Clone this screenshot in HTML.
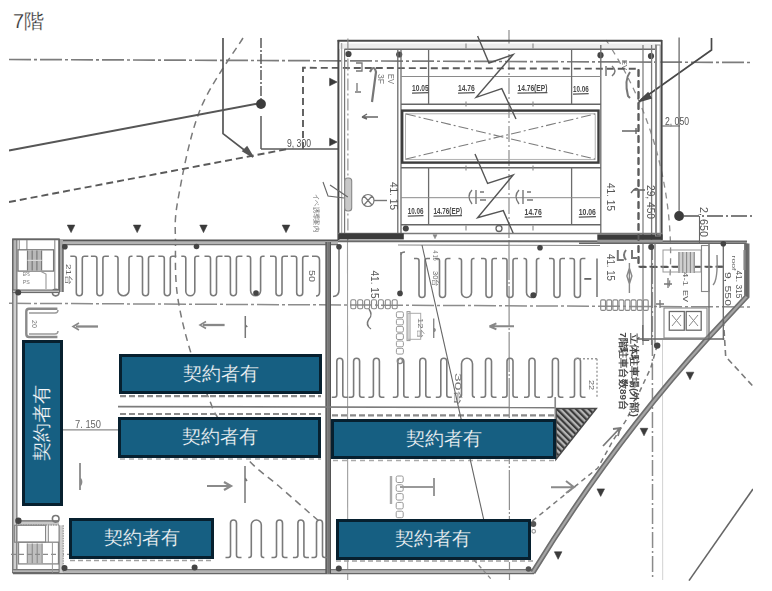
<!DOCTYPE html>
<html><head><meta charset="utf-8"><style>
html,body{margin:0;padding:0;background:#fff;width:772px;height:591px;overflow:hidden;font-family:"Liberation Sans",sans-serif}
svg{position:absolute;left:0;top:0}
svg text{font-family:"Liberation Sans",sans-serif}
.t{position:absolute;left:13px;top:11px;font-size:20px;color:#2e2e2e;-webkit-text-stroke:0.25px #fff;line-height:1}
.bx{position:absolute;box-sizing:border-box;border:3px solid #07202f;background:#165f82;color:#f6f8fa;font-size:18.5px;-webkit-text-stroke:0.2px #165f82;display:flex;align-items:center;justify-content:center;line-height:1}
.v{display:inline-block;transform:rotate(-90deg);white-space:nowrap}
</style></head><body>
<div class="t">7階</div>
<svg width="772" height="591" viewBox="0 0 772 591">
<defs><pattern id="hatch" width="4.5" height="4.5" patternUnits="userSpaceOnUse" patternTransform="rotate(-45)"><rect width="4.5" height="4.5" fill="#b4b4b4"/><line x1="1" y1="0" x2="1" y2="4.5" stroke="#3a3a3a" stroke-width="2.4"/></pattern>
<filter id="bl" x="0" y="0" width="100%" height="100%"><feGaussianBlur stdDeviation="0.45"/></filter></defs>
<g filter="url(#bl)">
<line x1="9" y1="59.5" x2="752" y2="62.5" stroke="#7c7c7c" stroke-width="1.7" stroke-dasharray="22 3 3 3"/>
<line x1="9" y1="303.3" x2="752" y2="307" stroke="#8c8c8c" stroke-width="1.5" stroke-dasharray="22 3 3 3"/>
<line x1="509" y1="30" x2="509" y2="240" stroke="#8e8e8e" stroke-width="1.2" stroke-dasharray="16 3 2 3"/>
<line x1="509" y1="240" x2="509.5" y2="580" stroke="#8e8e8e" stroke-width="1.2" stroke-dasharray="40 2 2 2"/>
<line x1="347.5" y1="238" x2="347.7" y2="580" stroke="#a0a0a0" stroke-width="1.1"/>
<line x1="652.3" y1="244" x2="652.6" y2="580" stroke="#8a8a8a" stroke-width="1.5" stroke-dasharray="16 3 2 3"/>
<line x1="662.5" y1="340" x2="662.7" y2="580" stroke="#d2d2d2" stroke-width="1.0"/>
<path d="M243,38 C235.8,50.0 210.8,83.0 200,110 C189.2,137.0 182.0,177.5 177.9,200 C173.8,222.5 175.6,228.9 175.5,245 C175.4,261.1 175.0,278.7 177.6,296.6 C180.2,314.5 185.5,335.4 190.8,352.6 C196.1,369.8 205.0,389.1 209.5,400 C214.0,410.9 211.5,408.0 218,418 C224.5,428.0 238.2,448.5 248.3,459.8 C258.4,471.1 267.1,475.9 278.5,485.8 C289.9,495.7 309.7,513.2 316.8,519.2 C323.9,525.2 320.3,521.5 321,522" fill="none" stroke="#7a7a7a" stroke-width="1.5" stroke-dasharray="7 5"/>
<path d="M606,40 A389,389 0 0 1 669,290" fill="none" stroke="#8c8c8c" stroke-width="1.3" stroke-dasharray="6 5"/>
<line x1="9" y1="150.5" x2="261" y2="103" stroke="#565656" stroke-width="1.9"/>
<line x1="9" y1="202" x2="288" y2="149" stroke="#5a5a5a" stroke-width="1.9" stroke-dasharray="7 4"/>
<polyline points="223.0,38.0 223.0,133.6 252.0,156.0" fill="none" stroke="#555" stroke-width="1.7"/>
<polygon points="243.0,151.0 253.0,157.0 247.0,147.0" fill="#555" stroke="#555" stroke-width="1.6"/>
<line x1="261" y1="38" x2="261" y2="99" stroke="#5a5a5a" stroke-width="1.5" stroke-dasharray="10 2 2 2"/>
<circle cx="261" cy="104" r="4.9" fill="#3a3a3a"/>
<line x1="261" y1="116" x2="261" y2="149" stroke="#5a5a5a" stroke-width="1.5"/>
<line x1="261" y1="149" x2="338" y2="149" stroke="#5a5a5a" stroke-width="1.6"/>
<text x="287" y="147" font-size="10" fill="#505050" text-anchor="start" textLength="24" lengthAdjust="spacingAndGlyphs">9, 300</text>
<polyline points="303.0,149.0 303.0,67.8 638.5,68.8 638.5,267.0 726.0,266.8" fill="none" stroke="#5c5c5c" stroke-width="1.9" stroke-dasharray="7 4"/>
<polygon points="329.6,78.2 329.6,85.8 337.1,82.0" fill="#3a3a3a" stroke="#3a3a3a" stroke-width="0.6"/>
<polygon points="329.6,138.2 329.6,145.8 337.1,142.0" fill="#3a3a3a" stroke="#3a3a3a" stroke-width="0.6"/>
<line x1="337.6" y1="40.8" x2="662" y2="40.8" stroke="#4a4a4a" stroke-width="2.0"/>
<line x1="338.4" y1="40" x2="338.4" y2="240" stroke="#4a4a4a" stroke-width="2.0"/>
<line x1="661.7" y1="40" x2="661.7" y2="240" stroke="#4a4a4a" stroke-width="1.8"/>
<rect x="339.5" y="43.5" width="317" height="5.5" fill="#ececec"/>
<line x1="344.4" y1="49.2" x2="656.5" y2="49.2" stroke="#6a6a6a" stroke-width="1.5"/>
<line x1="341.7" y1="43" x2="341.7" y2="237" stroke="#9a9a9a" stroke-width="1.0"/>
<line x1="344.6" y1="49" x2="344.6" y2="237" stroke="#777" stroke-width="1.2"/>
<line x1="347.9" y1="38.5" x2="347.9" y2="240" stroke="#8a8a8a" stroke-width="1.1" stroke-dasharray="12 3 2 3"/>
<circle cx="348.5" cy="54" r="3.1" fill="#444"/>
<circle cx="399.2" cy="54.5" r="3.1" fill="#444"/>
<circle cx="600.5" cy="55.2" r="3.1" fill="#444"/>
<circle cx="651" cy="56" r="3.1" fill="#444"/>
<line x1="397.8" y1="49.5" x2="397.8" y2="234" stroke="#6c6c6c" stroke-width="1.3"/>
<line x1="401" y1="49.5" x2="401" y2="234" stroke="#6c6c6c" stroke-width="1.3"/>
<line x1="600.8" y1="45" x2="600.8" y2="234" stroke="#6c6c6c" stroke-width="1.3"/>
<line x1="643" y1="45" x2="643" y2="345" stroke="#777" stroke-width="1.2"/>
<line x1="651.6" y1="45" x2="651.6" y2="345" stroke="#7a7a7a" stroke-width="1.3"/>
<line x1="656.5" y1="45" x2="656.5" y2="237" stroke="#8a8a8a" stroke-width="1.1"/>
<line x1="401" y1="76.5" x2="601" y2="76.5" stroke="#8a8a8a" stroke-width="1.0"/>
<line x1="401" y1="104.2" x2="601" y2="104.2" stroke="#666" stroke-width="1.4"/>
<line x1="401" y1="167.8" x2="601" y2="167.8" stroke="#666" stroke-width="1.4"/>
<rect x="402.2" y="110.6" width="196.3" height="52" rx="0" fill="none" stroke="#3c3c3c" stroke-width="2.4"/>
<rect x="405.5" y="113.8" width="189.7" height="45.6" rx="0" fill="none" stroke="#a8a8a8" stroke-width="0.9"/>
<line x1="406" y1="114" x2="595" y2="159" stroke="#7c7c7c" stroke-width="1.1" stroke-dasharray="10 3 2 3"/>
<line x1="406" y1="159" x2="595" y2="114" stroke="#7c7c7c" stroke-width="1.1" stroke-dasharray="10 3 2 3"/>
<line x1="428.6" y1="49.2" x2="428.6" y2="104.2" stroke="#6c6c6c" stroke-width="1.3"/>
<line x1="428.6" y1="167.8" x2="428.6" y2="224.8" stroke="#6c6c6c" stroke-width="1.3"/>
<line x1="571.6" y1="49.2" x2="571.6" y2="104.2" stroke="#6c6c6c" stroke-width="1.3"/>
<line x1="571.6" y1="167.8" x2="571.6" y2="224.8" stroke="#6c6c6c" stroke-width="1.3"/>
<line x1="401" y1="197.7" x2="601" y2="197.7" stroke="#8a8a8a" stroke-width="1.0"/>
<line x1="401" y1="224.8" x2="601" y2="224.8" stroke="#666" stroke-width="1.4"/>
<line x1="466" y1="43.5" x2="466" y2="48.5" stroke="#888" stroke-width="1.1"/>
<line x1="466" y1="101.5" x2="466" y2="106.5" stroke="#888" stroke-width="1.1"/>
<line x1="466" y1="165.5" x2="466" y2="170.5" stroke="#888" stroke-width="1.1"/>
<line x1="466" y1="225.5" x2="466" y2="230.5" stroke="#888" stroke-width="1.1"/>
<line x1="533" y1="43.5" x2="533" y2="48.5" stroke="#888" stroke-width="1.1"/>
<line x1="533" y1="101.5" x2="533" y2="106.5" stroke="#888" stroke-width="1.1"/>
<line x1="533" y1="165.5" x2="533" y2="170.5" stroke="#888" stroke-width="1.1"/>
<line x1="533" y1="225.5" x2="533" y2="230.5" stroke="#888" stroke-width="1.1"/>
<text x="412" y="91" font-size="9" fill="#484848" text-anchor="start" textLength="16.600000000000023" lengthAdjust="spacingAndGlyphs" font-weight="bold">10.05</text>
<line x1="412" y1="93.2" x2="428.6" y2="92.6" stroke="#555" stroke-width="1.3"/>
<text x="458" y="91" font-size="9" fill="#484848" text-anchor="start" textLength="16.80000000000001" lengthAdjust="spacingAndGlyphs" font-weight="bold">14.76</text>
<line x1="458" y1="93.2" x2="474.8" y2="92.6" stroke="#555" stroke-width="1.3"/>
<text x="517.5" y="91" font-size="9" fill="#484848" text-anchor="start" textLength="29.899999999999977" lengthAdjust="spacingAndGlyphs" font-weight="bold">14.76(EP)</text>
<line x1="517.5" y1="93.2" x2="547.4" y2="92.6" stroke="#555" stroke-width="1.3"/>
<text x="573" y="92" font-size="9" fill="#484848" text-anchor="start" textLength="15.700000000000045" lengthAdjust="spacingAndGlyphs" font-weight="bold">10.06</text>
<line x1="573" y1="94.2" x2="588.7" y2="93.6" stroke="#555" stroke-width="1.3"/>
<text x="407.8" y="214" font-size="9" fill="#484848" text-anchor="start" textLength="15.699999999999989" lengthAdjust="spacingAndGlyphs" font-weight="bold">10.06</text>
<line x1="407.8" y1="216.2" x2="423.5" y2="215.6" stroke="#555" stroke-width="1.3"/>
<text x="433.5" y="214" font-size="9" fill="#484848" text-anchor="start" textLength="28.5" lengthAdjust="spacingAndGlyphs" font-weight="bold">14.76(EP)</text>
<line x1="433.5" y1="216.2" x2="462" y2="215.6" stroke="#555" stroke-width="1.3"/>
<text x="524.6" y="215" font-size="9" fill="#484848" text-anchor="start" textLength="17.100000000000023" lengthAdjust="spacingAndGlyphs" font-weight="bold">14.76</text>
<line x1="524.6" y1="217.2" x2="541.7" y2="216.6" stroke="#555" stroke-width="1.3"/>
<text x="578.8" y="215" font-size="9" fill="#484848" text-anchor="start" textLength="17.100000000000023" lengthAdjust="spacingAndGlyphs" font-weight="bold">10.06</text>
<line x1="578.8" y1="217.2" x2="595.9" y2="216.6" stroke="#555" stroke-width="1.3"/>
<polyline points="477.6,36.0 489.0,63.0 513.2,54.5 476.2,97.3 501.8,88.7 516.0,119.0" fill="none" stroke="#555" stroke-width="1.4"/>
<polyline points="475.0,154.0 487.6,183.5 513.2,175.0 477.6,217.7 503.3,210.6 513.2,233.3" fill="none" stroke="#555" stroke-width="1.4"/>
<path d="M472,190 Q466,196 472,204 M476,190 L476,204 M480,192 L484,192 M480,200 L486,200" fill="none" stroke="#777" stroke-width="1.4"/>
<path d="M519,190 Q513,196 519,204 M523,190 L523,204 M527,192 L531,192 M527,200 L533,200" fill="none" stroke="#777" stroke-width="1.4"/>
<circle cx="405.8" cy="228.6" r="3" fill="#444"/>
<circle cx="499" cy="228.5" r="3" fill="none" stroke="#666" stroke-width="1.3"/>
<line x1="338" y1="233.5" x2="662" y2="233.5" stroke="#7a7a7a" stroke-width="1.3"/>
<line x1="338" y1="241.2" x2="747" y2="241.5" stroke="#6a6a6a" stroke-width="2.0"/>
<rect x="338.7" y="233.4" width="65.1" height="6" fill="#3b3b3b"/>
<rect x="597.3" y="234.4" width="65.3" height="5.5" fill="#3b3b3b"/>
<rect x="597.3" y="239.9" width="65.3" height="3.5" fill="#9a9a9a"/>
<rect x="344.7" y="178" width="7" height="33" rx="3" fill="#c8c8c8" stroke="#888" stroke-width="1.1"/>
<line x1="330" y1="185" x2="347.8" y2="197" stroke="#666" stroke-width="1.2"/>
<path d="M362,200.5 a6,6 0 1,0 12,0 a6,6 0 1,0 -12,0 M364,196 L372,205 M372,196 L364,205" fill="none" stroke="#777" stroke-width="1.2"/>
<line x1="374" y1="200.5" x2="387" y2="200.5" stroke="#777" stroke-width="1.4"/>
<text x="390" y="182" font-size="10" fill="#555" text-anchor="start" transform="rotate(90 390 182)" textLength="28" lengthAdjust="spacingAndGlyphs">41. 15</text>
<path d="M362,117 L378,117 M362,117 l5,-3 M362,117 l5,2" fill="none" stroke="#666" stroke-width="1.4"/>
<line x1="304" y1="184" x2="323" y2="184" stroke="#666" stroke-width="0"/>
<polyline points="323.0,182.0 328.0,196.0 344.0,198.0" fill="none" stroke="#666" stroke-width="1.1"/>
<text x="314" y="194" font-size="7" fill="#6a6a6a" text-anchor="start" transform="rotate(90 314 194)" textLength="38" lengthAdjust="spacingAndGlyphs">イベ誘導案内</text>
<path d="M356,63 l6,0 l0,8 l-6,0 M357,83 l0,8 M355,92 l6,0" fill="none" stroke="#777" stroke-width="1.3"/>
<path d="M370,72 q4,-8 6,0 l-4,30" fill="none" stroke="#777" stroke-width="2.2"/>
<text x="378" y="74" font-size="9" fill="#777" text-anchor="start" transform="rotate(90 378 74)" textLength="10" lengthAdjust="spacingAndGlyphs">3F</text>
<text x="388" y="74" font-size="9" fill="#777" text-anchor="start" transform="rotate(90 388 74)" textLength="10" lengthAdjust="spacingAndGlyphs">EV</text>
<path d="M606,66 l0,10 M612,66 q6,5 0,10" fill="none" stroke="#777" stroke-width="1.5"/>
<text x="622" y="60" font-size="8" fill="#666" text-anchor="start" transform="rotate(90 622 60)" textLength="10" lengthAdjust="spacingAndGlyphs">EV</text>
<path d="M630,72 q-6,8 -2,24 l2,2" fill="none" stroke="#777" stroke-width="2"/>
<polyline points="711.5,38.0 711.5,50.0 641.0,100.0" fill="none" stroke="#484848" stroke-width="1.7"/>
<polygon points="648.0,93.0 639.0,101.5 651.0,98.0" fill="#484848" stroke="#484848" stroke-width="1.6"/>
<line x1="679.1" y1="37.5" x2="679.1" y2="211" stroke="#6a6a6a" stroke-width="1.3"/>
<circle cx="679.1" cy="216" r="4.9" fill="#3a3a3a"/>
<line x1="683" y1="216" x2="752" y2="216" stroke="#555" stroke-width="1.5" stroke-dasharray="16 3 2 3"/>
<text x="665" y="124.5" font-size="11" fill="#555" text-anchor="start" textLength="24" lengthAdjust="spacingAndGlyphs">2, 050</text>
<line x1="662" y1="126" x2="680" y2="126" stroke="#666" stroke-width="1.1"/>
<text x="700" y="207" font-size="11" fill="#555" text-anchor="start" transform="rotate(90 700 207)" textLength="30" lengthAdjust="spacingAndGlyphs">2, 650</text>
<line x1="699.5" y1="216" x2="699.5" y2="243.5" stroke="#666" stroke-width="1.1"/>
<text x="607" y="183" font-size="10" fill="#555" text-anchor="start" transform="rotate(90 607 183)" textLength="28" lengthAdjust="spacingAndGlyphs">41. 15</text>
<text x="647" y="185" font-size="10" fill="#555" text-anchor="start" transform="rotate(90 647 185)" textLength="34" lengthAdjust="spacingAndGlyphs">29, 450</text>
<line x1="638.5" y1="69" x2="638.5" y2="267" stroke="#5c5c5c" stroke-width="1.9" stroke-dasharray="7 4"/>
<rect x="655.5" y="45" width="4.7" height="191" rx="0" fill="none" stroke="#8a8a8a" stroke-width="1.0"/>
<path d="M622,131 L638,131 M636,128 L636,134" fill="none" stroke="#666" stroke-width="1.4"/>
<path d="M633,190 l12,0 M631,193 q6,-8 8,-2" fill="none" stroke="#666" stroke-width="1.3"/>
<line x1="622" y1="93" x2="638" y2="103" stroke="#666" stroke-width="0"/>
<rect x="12.3" y="239" width="5" height="334" fill="#cfcfcf"/>
<line x1="12.8" y1="239" x2="12.8" y2="573" stroke="#6c6c6c" stroke-width="1.3"/>
<line x1="16.8" y1="239" x2="16.8" y2="573" stroke="#7c7c7c" stroke-width="1.3"/>
<line x1="13" y1="239.5" x2="60" y2="239.5" stroke="#666" stroke-width="1.4"/>
<rect x="60" y="240" width="278" height="5" fill="#b4b4b4"/>
<line x1="60" y1="240.4" x2="338" y2="240.4" stroke="#555" stroke-width="1.6"/>
<line x1="60" y1="244.6" x2="338" y2="244.6" stroke="#707070" stroke-width="1.3"/>
<rect x="59.5" y="239" width="3.5" height="53" fill="#a8a8a8"/>
<line x1="59.5" y1="239" x2="59.5" y2="292" stroke="#666" stroke-width="1.1"/>
<line x1="63" y1="244" x2="63" y2="292" stroke="#555" stroke-width="1.3"/>
<rect x="13" y="569.3" width="520.7" height="4.6" fill="#b4b4b4"/>
<line x1="13" y1="569.6" x2="533" y2="569.6" stroke="#777" stroke-width="1.1"/>
<line x1="13" y1="573.6" x2="534" y2="573.6" stroke="#666" stroke-width="1.3"/>
<rect x="325.7" y="242" width="5" height="332" fill="#8c8c8c"/>
<line x1="326.1" y1="242" x2="326.1" y2="574" stroke="#505050" stroke-width="1.3"/>
<line x1="330.3" y1="242" x2="330.3" y2="574" stroke="#505050" stroke-width="1.3"/>
<line x1="328.2" y1="242" x2="328.2" y2="574" stroke="#6a6a6a" stroke-width="0.9"/>
<path d="M532.8,572.5 Q611,445 706.3,339.9 L746.8,296.5 L746.8,243.4" fill="none" stroke="#6e6e6e" stroke-width="5.4"/>
<path d="M532.8,572.5 Q611,445 706.3,339.9 L746.8,296.5" fill="none" stroke="#a4a4a4" stroke-width="2.2"/>
<line x1="746.8" y1="243.4" x2="746.8" y2="296.5" stroke="#666" stroke-width="1.5"/>
<line x1="118" y1="406.6" x2="556" y2="407.6" stroke="#7c7c7c" stroke-width="1.7"/>
<line x1="398" y1="245" x2="600" y2="245.5" stroke="#8a8a8a" stroke-width="1.2"/>
<path d="M70.3,256.2 L74.1,256.2 Q76.3,256.2 76.3,258.4 L76.3,292.8 A3.0,3.0 0 0 0 82.3,292.8 L82.3,258.4 Q82.3,256.2 84.5,256.2 L88.3,256.2 M90.9,256.2 L94.7,256.2 Q96.9,256.2 96.9,258.4 L96.9,292.8 A3.0,3.0 0 0 0 102.9,292.8 L102.9,258.4 Q102.9,256.2 105.10000000000001,256.2 L108.9,256.2 M114.5,256.2 L115.8,256.2 Q118.0,256.2 118.0,258.4 L118.0,290.3 A5.5,5.5 0 0 0 129.0,290.3 L129.0,258.4 Q129.0,256.2 131.2,256.2 L132.5,256.2 M136.5,256.2 L140.3,256.2 Q142.5,256.2 142.5,258.4 L142.5,292.8 A3.0,3.0 0 0 0 148.5,292.8 L148.5,258.4 Q148.5,256.2 150.7,256.2 L154.5,256.2 M158.3,256.2 L162.10000000000002,256.2 Q164.3,256.2 164.3,258.4 L164.3,292.8 A3.0,3.0 0 0 0 170.3,292.8 L170.3,258.4 Q170.3,256.2 172.5,256.2 L176.3,256.2 M181.3,256.2 L183.60000000000002,256.2 Q185.8,256.2 185.8,258.4 L185.8,291.3 A4.5,4.5 0 0 0 194.8,291.3 L194.8,258.4 Q194.8,256.2 197.0,256.2 L199.3,256.2 M204.5,256.2 L208.3,256.2 Q210.5,256.2 210.5,258.4 L210.5,292.8 A3.0,3.0 0 0 0 216.5,292.8 L216.5,258.4 Q216.5,256.2 218.7,256.2 L222.5,256.2 M224.4,256.2 L228.20000000000002,256.2 Q230.4,256.2 230.4,258.4 L230.4,292.8 A3.0,3.0 0 0 0 236.4,292.8 L236.4,258.4 Q236.4,256.2 238.6,256.2 L242.4,256.2 M246.6,256.2 L248.4,256.2 Q250.6,256.2 250.6,258.4 L250.6,290.8 A5.0,5.0 0 0 0 260.6,290.8 L260.6,258.4 Q260.6,256.2 262.8,256.2 L264.6,256.2 M270,256.2 L273.8,256.2 Q276.0,256.2 276.0,258.4 L276.0,292.8 A3.0,3.0 0 0 0 282.0,292.8 L282.0,258.4 Q282.0,256.2 284.2,256.2 L288,256.2 M290.7,256.2 L294.5,256.2 Q296.7,256.2 296.7,258.4 L296.7,292.8 A3.0,3.0 0 0 0 302.7,292.8 L302.7,258.4 Q302.7,256.2 304.9,256.2 L308.7,256.2 " fill="none" stroke="#7a7a7a" stroke-width="1.6"/>
<circle cx="196.5" cy="246.5" r="2.8" fill="#444"/>
<path d="M312,256.2 L316,256.2 Q319.5,256.2 319.5,260 L319.5,292 Q319.5,296 316,296" fill="none" stroke="#7a7a7a" stroke-width="1.6"/>
<path d="M414,258.5 L416.8,258.5 Q419.0,258.5 419.0,260.7 L419.0,294.5 A3.0,3.0 0 0 0 425.0,294.5 L425.0,260.7 Q425.0,258.5 427.2,258.5 L430,258.5 M434.5,258.5 L437.3,258.5 Q439.5,258.5 439.5,260.7 L439.5,294.5 A3.0,3.0 0 0 0 445.5,294.5 L445.5,260.7 Q445.5,258.5 447.7,258.5 L450.5,258.5 M458.5,258.5 L459.3,258.5 Q461.5,258.5 461.5,260.7 L461.5,292.5 A5.0,5.0 0 0 0 471.5,292.5 L471.5,260.7 Q471.5,258.5 473.7,258.5 L474.5,258.5 M481,258.5 L483.8,258.5 Q486.0,258.5 486.0,260.7 L486.0,294.5 A3.0,3.0 0 0 0 492.0,294.5 L492.0,260.7 Q492.0,258.5 494.2,258.5 L497,258.5 M502,258.5 L504.8,258.5 Q507.0,258.5 507.0,260.7 L507.0,294.5 A3.0,3.0 0 0 0 513.0,294.5 L513.0,260.7 Q513.0,258.5 515.2,258.5 L518,258.5 M523.5,258.5 L524.3,258.5 Q526.5,258.5 526.5,260.7 L526.5,292.5 A5.0,5.0 0 0 0 536.5,292.5 L536.5,260.7 Q536.5,258.5 538.7,258.5 L539.5,258.5 M549,258.5 L551.8,258.5 Q554.0,258.5 554.0,260.7 L554.0,294.5 A3.0,3.0 0 0 0 560.0,294.5 L560.0,260.7 Q560.0,258.5 562.2,258.5 L565,258.5 M569.4,258.5 L572.1999999999999,258.5 Q574.4,258.5 574.4,260.7 L574.4,294.5 A3.0,3.0 0 0 0 580.4,294.5 L580.4,260.7 Q580.4,258.5 582.6,258.5 L585.4,258.5 " fill="none" stroke="#7a7a7a" stroke-width="1.6"/>
<line x1="597" y1="258.5" x2="597" y2="297" stroke="#7a7a7a" stroke-width="1.6"/>
<line x1="401" y1="252" x2="401" y2="292" stroke="#7a7a7a" stroke-width="1.6"/>
<path d="M401,255 Q401,252 405,252" fill="none" stroke="#7a7a7a" stroke-width="1.4"/>
<path d="M339,247 L339,290 Q339,296.5 333,296.5" fill="none" stroke="#7a7a7a" stroke-width="1.6"/>
<circle cx="400" cy="293.4" r="2.8" fill="#444"/>
<circle cx="533.4" cy="295.2" r="3" fill="#444"/>
<circle cx="256" cy="293" r="2.8" fill="#444"/>
<circle cx="55.7" cy="292.6" r="3.3" fill="none" stroke="#777" stroke-width="1.6"/>
<circle cx="64.9" cy="246.8" r="2.8" fill="#444"/>
<circle cx="339" cy="246.7" r="2.8" fill="#444"/>
<circle cx="540" cy="247.8" r="2.8" fill="#444"/>
<circle cx="651.2" cy="247" r="3" fill="#444"/>
<path d="M331.8,397.2 L334.6,397.2 Q336.8,397.2 336.8,395.0 L336.8,361.2 A3.0,3.0 0 0 1 342.8,361.2 L342.8,395.0 Q342.8,397.2 345.0,397.2 L347.8,397.2 M348.6,397.2 L351.40000000000003,397.2 Q353.6,397.2 353.6,395.0 L353.6,361.2 A3.0,3.0 0 0 1 359.6,361.2 L359.6,395.0 Q359.6,397.2 361.8,397.2 L364.6,397.2 M368.4,397.2 L371.2,397.2 Q373.4,397.2 373.4,395.0 L373.4,361.2 A3.0,3.0 0 0 1 379.4,361.2 L379.4,395.0 Q379.4,397.2 381.59999999999997,397.2 L384.4,397.2 M392.8,397.2 L395.6,397.2 Q397.8,397.2 397.8,395.0 L397.8,361.2 A3.0,3.0 0 0 1 403.8,361.2 L403.8,395.0 Q403.8,397.2 406.0,397.2 L408.8,397.2 M414.8,397.2 L417.6,397.2 Q419.8,397.2 419.8,395.0 L419.8,361.2 A3.0,3.0 0 0 1 425.8,361.2 L425.8,395.0 Q425.8,397.2 428.0,397.2 L430.8,397.2 M435.8,397.2 L438.6,397.2 Q440.8,397.2 440.8,395.0 L440.8,361.2 A3.0,3.0 0 0 1 446.8,361.2 L446.8,395.0 Q446.8,397.2 449.0,397.2 L451.8,397.2 M459,397.2 L459.3,397.2 Q461.5,397.2 461.5,395.0 L461.5,363.7 A5.5,5.5 0 0 1 472.5,363.7 L472.5,395.0 Q472.5,397.2 474.7,397.2 L475,397.2 M480.5,397.2 L483.3,397.2 Q485.5,397.2 485.5,395.0 L485.5,361.2 A3.0,3.0 0 0 1 491.5,361.2 L491.5,395.0 Q491.5,397.2 493.7,397.2 L496.5,397.2 M502,397.2 L504.8,397.2 Q507.0,397.2 507.0,395.0 L507.0,361.2 A3.0,3.0 0 0 1 513.0,361.2 L513.0,395.0 Q513.0,397.2 515.2,397.2 L518,397.2 M524,397.2 L526.8,397.2 Q529.0,397.2 529.0,395.0 L529.0,361.2 A3.0,3.0 0 0 1 535.0,361.2 L535.0,395.0 Q535.0,397.2 537.2,397.2 L540,397.2 M547.4,397.2 L550.1999999999999,397.2 Q552.4,397.2 552.4,395.0 L552.4,361.2 A3.0,3.0 0 0 1 558.4,361.2 L558.4,395.0 Q558.4,397.2 560.6,397.2 L563.4,397.2 M569.5,397.2 L572.3,397.2 Q574.5,397.2 574.5,395.0 L574.5,361.2 A3.0,3.0 0 0 1 580.5,361.2 L580.5,395.0 Q580.5,397.2 582.7,397.2 L585.5,397.2 " fill="none" stroke="#7a7a7a" stroke-width="1.6"/>
<line x1="597" y1="358.7" x2="597" y2="397.3" stroke="#999" stroke-width="1.4" stroke-dasharray="2 2"/>
<line x1="575" y1="358.7" x2="597" y2="358.7" stroke="#999" stroke-width="1.4" stroke-dasharray="2 2"/>
<line x1="555.4" y1="397.3" x2="555.4" y2="408" stroke="#888" stroke-width="1.3"/>
<line x1="120" y1="396.2" x2="321" y2="396.2" stroke="#8a8a8a" stroke-width="2.2" stroke-dasharray="6 3"/>
<line x1="120" y1="414" x2="321" y2="414" stroke="#8a8a8a" stroke-width="2.2" stroke-dasharray="6 3"/>
<line x1="332" y1="415.3" x2="556" y2="415.3" stroke="#8a8a8a" stroke-width="2.2" stroke-dasharray="6 3"/>
<line x1="333" y1="460.5" x2="556" y2="460.5" stroke="#aaaaaa" stroke-width="1.6" stroke-dasharray="5 4"/>
<line x1="120" y1="459" x2="321" y2="459" stroke="#aaaaaa" stroke-width="1.6" stroke-dasharray="5 4"/>
<path d="M225.5,557.5 L228.3,557.5 Q230.5,557.5 230.5,555.3 L230.5,523.0 A3.0,3.0 0 0 1 236.5,523.0 L236.5,555.3 Q236.5,557.5 238.7,557.5 L241.5,557.5 M248.3,557.5 L249.10000000000002,557.5 Q251.3,557.5 251.3,555.3 L251.3,525.0 A5.0,5.0 0 0 1 261.3,525.0 L261.3,555.3 Q261.3,557.5 263.5,557.5 L264.3,557.5 M271.5,557.5 L274.3,557.5 Q276.5,557.5 276.5,555.3 L276.5,523.0 A3.0,3.0 0 0 1 282.5,523.0 L282.5,555.3 Q282.5,557.5 284.7,557.5 L287.5,557.5 M292.9,557.5 L295.7,557.5 Q297.9,557.5 297.9,555.3 L297.9,523.0 A3.0,3.0 0 0 1 303.9,523.0 L303.9,555.3 Q303.9,557.5 306.09999999999997,557.5 L308.9,557.5 M311.5,557.5 L314.3,557.5 Q316.5,557.5 316.5,555.3 L316.5,523.0 A3.0,3.0 0 0 1 322.5,523.0 L322.5,555.3 Q322.5,557.5 324.7,557.5 L327.5,557.5 " fill="none" stroke="#7a7a7a" stroke-width="1.6"/>
<line x1="336" y1="561" x2="534" y2="561" stroke="#a0a0a0" stroke-width="1.6" stroke-dasharray="5 3"/>
<line x1="70" y1="560.5" x2="214" y2="560.5" stroke="#a0a0a0" stroke-width="1.6" stroke-dasharray="5 3"/>
<rect x="12.7" y="239.1" width="46.2" height="53" rx="0" fill="none" stroke="#666" stroke-width="1.4"/>
<line x1="15" y1="240" x2="15" y2="291" stroke="#999" stroke-width="1.0"/>
<line x1="19.2" y1="240" x2="19.2" y2="249.8" stroke="#888" stroke-width="1.1"/>
<line x1="26.9" y1="240" x2="26.9" y2="249.8" stroke="#888" stroke-width="1.1"/>
<rect x="18" y="249.8" width="35.6" height="21.3" rx="0" fill="none" stroke="#777" stroke-width="1.3"/>
<rect x="27.5" y="250.5" width="14.2" height="20" fill="#b8b8b8"/>
<line x1="27.5" y1="250.5" x2="27.5" y2="270.5" stroke="#7a7a7a" stroke-width="1.2"/>
<line x1="32.2" y1="250.5" x2="32.2" y2="270.5" stroke="#7a7a7a" stroke-width="1.2"/>
<line x1="36.9" y1="250.5" x2="36.9" y2="270.5" stroke="#7a7a7a" stroke-width="1.2"/>
<line x1="41.6" y1="250.5" x2="41.6" y2="270.5" stroke="#7a7a7a" stroke-width="1.2"/>
<line x1="27.5" y1="260.4" x2="41.7" y2="260.4" stroke="#dadada" stroke-width="1.2"/>
<line x1="54.8" y1="240" x2="54.8" y2="291" stroke="#888" stroke-width="1.1"/>
<rect x="13" y="290" width="46" height="2.6" fill="#bdbdbd"/>
<line x1="13" y1="290" x2="59" y2="290" stroke="#666" stroke-width="1.0"/>
<line x1="13" y1="292.6" x2="59" y2="292.6" stroke="#666" stroke-width="1.0"/>
<path d="M40,271 L46,274 L46,289" fill="none" stroke="#999" stroke-width="1.1"/>
<circle cx="18.2" cy="292.5" r="3" fill="#444"/>
<text x="22.8" y="276" font-size="6" fill="#777" text-anchor="start" textLength="7" lengthAdjust="spacingAndGlyphs">EPS</text>
<text x="22.8" y="284" font-size="6" fill="#777" text-anchor="start" textLength="7" lengthAdjust="spacingAndGlyphs">PS</text>
<rect x="17.9" y="520.6" width="41.2" height="4.7" fill="#c8c8c8"/>
<line x1="17.9" y1="520.8" x2="59.1" y2="520.8" stroke="#666" stroke-width="1.3"/>
<line x1="17.9" y1="525" x2="59.1" y2="525" stroke="#777" stroke-width="1.1" stroke-dasharray="1.5 1"/>
<rect x="14.5" y="525.3" width="31.1" height="16.9" rx="0" fill="none" stroke="#888" stroke-width="1.2"/>
<rect x="18.5" y="542.2" width="40" height="21.7" rx="0" fill="none" stroke="#888" stroke-width="1.3"/>
<rect x="27.3" y="543.6" width="14.9" height="19.6" fill="#c0c0c0"/>
<line x1="27.3" y1="543.6" x2="27.3" y2="563.2" stroke="#8a8a8a" stroke-width="1.1"/>
<line x1="32.25" y1="543.6" x2="32.25" y2="563.2" stroke="#8a8a8a" stroke-width="1.1"/>
<line x1="37.2" y1="543.6" x2="37.2" y2="563.2" stroke="#8a8a8a" stroke-width="1.1"/>
<line x1="42.150000000000006" y1="543.6" x2="42.150000000000006" y2="563.2" stroke="#8a8a8a" stroke-width="1.1"/>
<line x1="11" y1="554.4" x2="69" y2="554.4" stroke="#8a8a8a" stroke-width="1.4" stroke-dasharray="5 3"/>
<line x1="12.4" y1="572.7" x2="59.1" y2="572.7" stroke="#6a6a6a" stroke-width="1.6"/>
<rect x="59.1" y="525.3" width="4.1" height="47.4" fill="#cfcfcf"/>
<line x1="59.1" y1="525.3" x2="59.1" y2="572.7" stroke="#777" stroke-width="1.1"/>
<line x1="63.2" y1="525.3" x2="63.2" y2="572.7" stroke="#888" stroke-width="1.1" stroke-dasharray="1.5 1"/>
<line x1="48.3" y1="525.3" x2="48.3" y2="542.2" stroke="#888" stroke-width="1.1"/>
<line x1="52.4" y1="542" x2="52.4" y2="572.7" stroke="#999" stroke-width="1.0"/>
<circle cx="18.4" cy="520.8" r="3.2" fill="#444"/>
<circle cx="55.7" cy="518.8" r="3.3" fill="none" stroke="#777" stroke-width="1.6"/>
<circle cx="64.5" cy="568" r="3" fill="#444"/>
<circle cx="194.6" cy="567.4" r="3" fill="#444"/>
<circle cx="338.8" cy="568.4" r="3" fill="#444"/>
<path d="M57.4,308.7 L29,308.7 Q26.3,308.7 26.3,311.5 L26.3,334 Q26.3,337 29,337 L57.4,337" fill="none" stroke="#8a8a8a" stroke-width="2.4"/>
<path d="M29,313 L55,313 Q58,313 58,310" fill="none" stroke="#999" stroke-width="1.4"/>
<path d="M29,334 L55,334 Q58,334 58,331" fill="none" stroke="#999" stroke-width="1.4"/>
<text x="32" y="320" font-size="7" fill="#777" text-anchor="start" transform="rotate(90 32 320)">20</text>
<polygon points="67.3,225.1 74.8,225.1 71.1,232.6" fill="#3a3a3a" stroke="#3a3a3a" stroke-width="0.6"/>
<polygon points="133.4,225.1 140.9,225.1 137.2,232.6" fill="#3a3a3a" stroke="#3a3a3a" stroke-width="0.6"/>
<polygon points="199.8,225.1 207.2,225.1 203.5,232.6" fill="#3a3a3a" stroke="#3a3a3a" stroke-width="0.6"/>
<polygon points="282.2,225.1 289.8,225.1 286.0,232.6" fill="#3a3a3a" stroke="#3a3a3a" stroke-width="0.6"/>
<line x1="76" y1="326.5" x2="98" y2="326.5" stroke="#888" stroke-width="2.3"/>
<polyline points="79.0,323.0 73.0,326.5 79.0,330.0" fill="none" stroke="#888" stroke-width="1.6"/>
<line x1="203" y1="325" x2="224.6" y2="325" stroke="#888" stroke-width="2.3"/>
<polyline points="206.0,321.5 200.0,325.0 206.0,328.5" fill="none" stroke="#888" stroke-width="1.6"/>
<path d="M245.3,316 L245.3,338 M245.3,325 l2,2" fill="none" stroke="#777" stroke-width="1.5"/>
<path d="M207,486 L230,486 M224,482 L231,486 L224,490" fill="none" stroke="#8a8a8a" stroke-width="2.2"/>
<path d="M245,466 L245,503 M245,478 l2,3" fill="none" stroke="#777" stroke-width="1.5"/>
<path d="M80,463 L80,490 M80,478 q3,4 0,8" fill="none" stroke="#8a8a8a" stroke-width="1.8"/>
<line x1="62.5" y1="429.8" x2="118" y2="429.8" stroke="#8a8a8a" stroke-width="1.3"/>
<text x="75" y="428" font-size="10" fill="#666" text-anchor="start" textLength="26" lengthAdjust="spacingAndGlyphs">7. 150</text>
<text x="66" y="264" font-size="8" fill="#666" text-anchor="start" transform="rotate(90 66 264)" textLength="21" lengthAdjust="spacingAndGlyphs">21台</text>
<text x="309" y="270" font-size="9" fill="#666" text-anchor="start" transform="rotate(90 309 270)" textLength="12" lengthAdjust="spacingAndGlyphs">50</text>
<text x="370.5" y="270.5" font-size="10" fill="#555" text-anchor="start" transform="rotate(90 370.5 270.5)" textLength="28" lengthAdjust="spacingAndGlyphs">41. 15</text>
<path d="M369,309 q4,6 0,10 q-4,6 2,10" fill="none" stroke="#777" stroke-width="1.4"/>
<rect x="350.8" y="299.7" width="5" height="9" rx="1.5" fill="none" stroke="#888" stroke-width="1.1"/>
<rect x="357.7" y="299.7" width="5" height="9" rx="1.5" fill="none" stroke="#888" stroke-width="1.1"/>
<rect x="364.6" y="299.7" width="5" height="9" rx="1.5" fill="none" stroke="#888" stroke-width="1.1"/>
<rect x="371.5" y="299.7" width="5" height="9" rx="1.5" fill="none" stroke="#888" stroke-width="1.1"/>
<rect x="378.40000000000003" y="299.7" width="5" height="9" rx="1.5" fill="none" stroke="#888" stroke-width="1.1"/>
<rect x="385.3" y="299.7" width="5" height="9" rx="1.5" fill="none" stroke="#888" stroke-width="1.1"/>
<rect x="392.20000000000005" y="299.7" width="5" height="9" rx="1.5" fill="none" stroke="#888" stroke-width="1.1"/>
<rect x="396.4" y="311.8" width="7" height="5.8" rx="1.5" fill="none" stroke="#999" stroke-width="1.0"/>
<rect x="396.4" y="319.1" width="7" height="5.8" rx="1.5" fill="none" stroke="#999" stroke-width="1.0"/>
<rect x="396.4" y="326.40000000000003" width="7" height="5.8" rx="1.5" fill="none" stroke="#999" stroke-width="1.0"/>
<rect x="396.4" y="333.7" width="7" height="5.8" rx="1.5" fill="none" stroke="#999" stroke-width="1.0"/>
<rect x="396.4" y="341.0" width="7" height="5.8" rx="1.5" fill="none" stroke="#999" stroke-width="1.0"/>
<rect x="396.4" y="348.3" width="7" height="5.8" rx="1.5" fill="none" stroke="#999" stroke-width="1.0"/>
<circle cx="399.9" cy="361" r="2.6" fill="none" stroke="#888" stroke-width="1.4"/>
<rect x="407" y="311.6" width="3" height="29" rx="0" fill="none" stroke="#999" stroke-width="1.0"/>
<rect x="408" y="313.3" width="12.7" height="26" rx="0" fill="none" stroke="#aaa" stroke-width="1.0"/>
<text x="418" y="318" font-size="8" fill="#777" text-anchor="start" transform="rotate(90 418 318)" textLength="20" lengthAdjust="spacingAndGlyphs">12台</text>
<path d="M433.7,318.5 L433.7,338 M433.7,328 q3,2 0,4" fill="none" stroke="#888" stroke-width="1.4"/>
<path d="M489.4,326.3 L514,326.3 M489.4,326.3 l7,-3 M489.4,326.3 l7,3" fill="none" stroke="#888" stroke-width="2.0"/>
<line x1="422" y1="245" x2="483.6" y2="519" stroke="#666" stroke-width="1.1"/>
<line x1="474" y1="560" x2="491" y2="579" stroke="#888" stroke-width="1.3" stroke-dasharray="4 3"/>
<polygon points="556.0,408.5 596.2,408.5 556.0,459.3" fill="url(#hatch)" stroke="#4a4a4a" stroke-width="1.6"/>
<line x1="555.2" y1="397" x2="555.2" y2="459" stroke="#888" stroke-width="1.4"/>
<text x="589" y="380" font-size="8" fill="#666" text-anchor="start" transform="rotate(90 589 380)" textLength="10" lengthAdjust="spacingAndGlyphs">22</text>
<polyline points="532.4,520.9 597.8,468.0 613.3,440.0 626.3,420.0 650.7,368.0 657.0,346.0" fill="none" stroke="#7a7a7a" stroke-width="1.5" stroke-dasharray="5 4"/>
<polygon points="686.2,372.2 693.8,372.2 690.0,379.7" fill="#3a3a3a" stroke="#3a3a3a" stroke-width="0.6"/>
<polygon points="640.2,428.3 647.8,428.3 644.0,435.8" fill="#3a3a3a" stroke="#3a3a3a" stroke-width="0.6"/>
<polygon points="597.0,488.9 604.5,488.9 600.7,496.4" fill="#3a3a3a" stroke="#3a3a3a" stroke-width="0.6"/>
<polygon points="554.4,551.8 561.9,551.8 558.1,559.3" fill="#3a3a3a" stroke="#3a3a3a" stroke-width="0.6"/>
<text x="631.2" y="333" font-size="9.5" fill="#4a4a4a" text-anchor="start" transform="rotate(90 631.2 333)" textLength="84" lengthAdjust="spacingAndGlyphs" font-weight="bold">立体駐車場(外部)</text>
<text x="620" y="332.2" font-size="9.5" fill="#4a4a4a" text-anchor="start" transform="rotate(90 620 332.2)" textLength="78" lengthAdjust="spacingAndGlyphs" font-weight="bold">7階駐車台数89台</text>
<polyline points="642.8,325.0 642.8,340.3 649.2,340.3" fill="none" stroke="#666" stroke-width="1.3"/>
<path d="M603,446 L620,428 M613,429 L620,428 L618,436" fill="none" stroke="#7a7a7a" stroke-width="1.8"/>
<polyline points="723.4,320.0 725.7,356.6 753.0,386.3" fill="none" stroke="#7a7a7a" stroke-width="1.6" stroke-dasharray="6 4"/>
<line x1="753" y1="489" x2="689" y2="580.6" stroke="#666" stroke-width="1.6"/>
<path d="M551,487.2 L574,487.2 M566,481 L574,487.2 L566,493" fill="none" stroke="#8a8a8a" stroke-width="2.0"/>
<path d="M400,487 L434,487 M434,478 L434,496" fill="none" stroke="#999" stroke-width="2.0"/>
<line x1="391" y1="476" x2="391" y2="504" stroke="#aaa" stroke-width="2.4"/>
<rect x="396.2" y="476.0" width="7" height="6.5" rx="1.5" fill="none" stroke="#999" stroke-width="1.0"/>
<rect x="396.2" y="484.8" width="7" height="6.5" rx="1.5" fill="none" stroke="#999" stroke-width="1.0"/>
<rect x="396.2" y="493.6" width="7" height="6.5" rx="1.5" fill="none" stroke="#999" stroke-width="1.0"/>
<rect x="396.2" y="502.4" width="7" height="6.5" rx="1.5" fill="none" stroke="#999" stroke-width="1.0"/>
<rect x="396.2" y="511.2" width="7" height="6.5" rx="1.5" fill="none" stroke="#999" stroke-width="1.0"/>
<circle cx="533.3" cy="524" r="3" fill="#555"/>
<circle cx="528.5" cy="569" r="2.8" fill="#555"/>
<circle cx="533.7" cy="531.3" r="1.8" fill="none" stroke="#999" stroke-width="1.2"/>
<text x="455" y="373" font-size="9" fill="#777" text-anchor="start" transform="rotate(90 455 373)" textLength="33" lengthAdjust="spacingAndGlyphs">30台</text>
<text x="432.5" y="271" font-size="8" fill="#6a6a6a" text-anchor="start" transform="rotate(90 432.5 271)" textLength="16" lengthAdjust="spacingAndGlyphs">30台</text>
<text x="432.5" y="250.5" font-size="7" fill="#777" text-anchor="start" transform="rotate(90 432.5 250.5)" textLength="10" lengthAdjust="spacingAndGlyphs">4 15</text>
<polygon points="433.0,234.7 437.0,234.7 435.0,238.7" fill="#888" stroke="#888" stroke-width="0.6"/>
<line x1="579" y1="243.3" x2="746.5" y2="243.3" stroke="#666" stroke-width="1.4"/>
<line x1="638.5" y1="266.6" x2="726.5" y2="266.6" stroke="#555" stroke-width="1.8" stroke-dasharray="7 4"/>
<line x1="709" y1="243.5" x2="709" y2="340" stroke="#6a6a6a" stroke-width="1.3"/>
<line x1="723.3" y1="243.5" x2="723.3" y2="340" stroke="#6a6a6a" stroke-width="1.3"/>
<line x1="655" y1="243.5" x2="655" y2="345" stroke="#7a7a7a" stroke-width="1.3"/>
<line x1="637.4" y1="339" x2="724.4" y2="339" stroke="#666" stroke-width="1.4"/>
<rect x="663" y="250" width="38" height="22" rx="0" fill="none" stroke="#999" stroke-width="1.0"/>
<rect x="678" y="252" width="17" height="21" fill="#cfcfcf"/>
<line x1="679.0" y1="252" x2="679.0" y2="273" stroke="#888" stroke-width="1.1"/>
<line x1="682.8" y1="252" x2="682.8" y2="273" stroke="#888" stroke-width="1.1"/>
<line x1="686.6" y1="252" x2="686.6" y2="273" stroke="#888" stroke-width="1.1"/>
<line x1="690.4" y1="252" x2="690.4" y2="273" stroke="#888" stroke-width="1.1"/>
<line x1="694.2" y1="252" x2="694.2" y2="273" stroke="#888" stroke-width="1.1"/>
<rect x="701.5" y="245.5" width="7.5" height="46" rx="0" fill="none" stroke="#888" stroke-width="1.1"/>
<rect x="600.7" y="299.9" width="4.8" height="10.5" rx="1.2" fill="none" stroke="#888" stroke-width="1.1"/>
<rect x="606.8000000000001" y="299.9" width="4.8" height="10.5" rx="1.2" fill="none" stroke="#888" stroke-width="1.1"/>
<rect x="612.9000000000001" y="299.9" width="4.8" height="10.5" rx="1.2" fill="none" stroke="#888" stroke-width="1.1"/>
<rect x="619.0" y="299.9" width="4.8" height="10.5" rx="1.2" fill="none" stroke="#888" stroke-width="1.1"/>
<rect x="625.1" y="299.9" width="4.8" height="10.5" rx="1.2" fill="none" stroke="#888" stroke-width="1.1"/>
<rect x="631.2" y="299.9" width="4.8" height="10.5" rx="1.2" fill="none" stroke="#888" stroke-width="1.1"/>
<rect x="637.3000000000001" y="299.9" width="4.8" height="10.5" rx="1.2" fill="none" stroke="#888" stroke-width="1.1"/>
<rect x="643.4000000000001" y="299.9" width="4.8" height="10.5" rx="1.2" fill="none" stroke="#888" stroke-width="1.1"/>
<rect x="664" y="308" width="43" height="30" rx="0" fill="none" stroke="#888" stroke-width="1.1"/>
<rect x="669.3" y="311.5" width="15" height="18.7" rx="0" fill="none" stroke="#6a6a6a" stroke-width="1.3"/>
<rect x="686.2" y="311.5" width="15" height="18.7" rx="0" fill="none" stroke="#6a6a6a" stroke-width="1.3"/>
<path d="M672,315 l9,11 M681,315 l-9,11 M689,315 l9,11 M698,315 l-9,11" fill="none" stroke="#888" stroke-width="1.0"/>
<circle cx="723.3" cy="243.7" r="2.8" fill="#444"/>
<circle cx="657.2" cy="345.6" r="3.2" fill="#444"/>
<text x="736.3" y="270.4" font-size="9" fill="#555" text-anchor="start" transform="rotate(90 736.3 270.4)" textLength="28" lengthAdjust="spacingAndGlyphs">41. 315</text>
<text x="725.2" y="272" font-size="9" fill="#555" text-anchor="start" transform="rotate(90 725.2 272)" textLength="34" lengthAdjust="spacingAndGlyphs">9, 550</text>
<text x="732" y="255.5" font-size="6" fill="#666" text-anchor="start" transform="rotate(90 732 255.5)" textLength="15" lengthAdjust="spacingAndGlyphs">roof</text>
<path d="M744.5,250 L744.5,270" fill="none" stroke="#888" stroke-width="2.2"/>
<text x="607" y="254" font-size="10" fill="#555" text-anchor="start" transform="rotate(90 607 254)" textLength="27" lengthAdjust="spacingAndGlyphs">41. 15</text>
<text x="683" y="290" font-size="8" fill="#555" text-anchor="start" transform="rotate(90 683 290)" textLength="12" lengthAdjust="spacingAndGlyphs">EV</text>
<text x="683" y="272" font-size="8" fill="#666" text-anchor="start" transform="rotate(90 683 272)" textLength="14" lengthAdjust="spacingAndGlyphs">4-1</text>
<path d="M617.8,250 l0,10 l6,0 M626,250 q-4,5 0,10 M632,250 l0,8 l5,0" fill="none" stroke="#777" stroke-width="2.0"/>
<path d="M629.4,263 L629.4,293 M629.4,268 l-2.5,8 l2.5,8 l2.5,-8 z" fill="none" stroke="#888" stroke-width="1.4"/>
<path d="M584.3,278.9 L591.3,278.9" fill="none" stroke="#666" stroke-width="1.8"/>
<path d="M713,285 q5,-5 4,-30" fill="none" stroke="#888" stroke-width="1.4"/>
<path d="M668,278 l0,10 M664,284 l8,0" fill="none" stroke="#777" stroke-width="1.3"/>
<path d="M660,300 l0,8 M656,304 l8,0" fill="none" stroke="#777" stroke-width="1.3"/>
</g>
</svg>
<div class="bx" style="left:119px;top:354px;width:203px;height:40.3px">契約者有</div>
<div class="bx" style="left:118px;top:417px;width:203px;height:40.5px">契約者有</div>
<div class="bx" style="left:331px;top:418.5px;width:225px;height:40.8px">契約者有</div>
<div class="bx" style="left:69px;top:518.2px;width:145.2px;height:40.5px">契約者有</div>
<div class="bx" style="left:336px;top:519px;width:194.7px;height:40.5px">契約者有</div>
<div class="bx" style="left:22.2px;top:340px;width:40.6px;height:165.6px"><span class="v">契約者有</span></div>

</body></html>
